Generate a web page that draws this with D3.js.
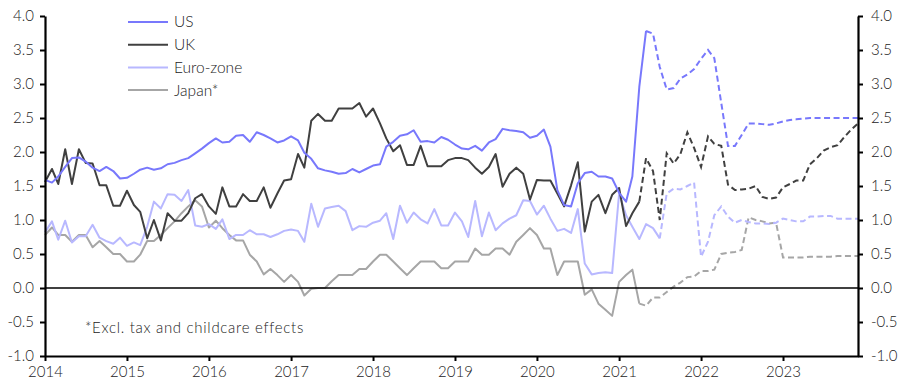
<!DOCTYPE html>
<html><head><meta charset="utf-8">
<script src="https://cdn.jsdelivr.net/npm/d3@7"></script>
<style>
body{margin:0;background:#fff;}
svg{font-family:Lato,"Open Sans",sans-serif;}
</style></head>
<body><svg id="c" width="907" height="391"></svg>
<script>
// Monthly data, Jan 2014 onward (actual), forecasts start at given month index
const startDate = new Date(2014,0,1);
const years = [2014,2015,2016,2017,2018,2019,2020,2021,2022,2023];
const yTicks = [-1,-0.5,0,0.5,1,1.5,2,2.5,3,3.5,4];
const yTickLabels = ["-1.0","-0.5","0.0","0.5","1.0","1.5","2.0","2.5","3.0","3.5","4.0"];
const seriesNames = ["US","UK","Euro-zone","Japan*"];
const seriesColors = ["#7878fc","#404040","#b8b8ff","#a6a6a6"];

const usActual = [1.59,1.55,1.64,1.78,1.91,1.92,1.86,1.77,1.72,1.78,1.72,1.61,
 1.62,1.68,1.74,1.77,1.74,1.76,1.82,1.84,1.88,1.91,1.98,2.05,
 2.13,2.20,2.14,2.15,2.24,2.25,2.15,2.29,2.25,2.20,2.14,2.17,
 2.23,2.17,1.99,1.90,1.76,1.73,1.71,1.68,1.69,1.75,1.70,1.75,
 1.80,1.82,2.08,2.15,2.24,2.26,2.32,2.15,2.16,2.14,2.22,2.18,
 2.11,2.05,2.04,2.09,2.02,2.14,2.19,2.34,2.32,2.31,2.29,2.21,
 2.24,2.33,2.08,1.44,1.22,1.20,1.54,1.69,1.71,1.64,1.64,1.61,
 1.40,1.27,1.64,2.96,3.78];
const usForecastStart = 88;
const usForecast = [3.78,3.74,3.25,2.92,2.94,3.08,3.14,3.22,3.37,3.50,3.38,2.72,
 2.09,2.09,2.25,2.42,2.42,2.41,2.40,2.42,2.45,2.47,2.48,2.49,
 2.50,2.50,2.50,2.50,2.50,2.50,2.50,2.50];

const ukActual = [1.56,1.75,1.53,2.04,1.53,2.04,1.84,1.83,1.51,1.51,1.21,1.21,
 1.43,1.22,1.12,0.73,1.00,0.70,1.10,0.99,0.99,1.10,1.32,1.38,
 1.20,1.09,1.48,1.20,1.20,1.38,1.28,1.28,1.48,1.18,1.39,1.58,
 1.60,1.97,1.77,2.46,2.56,2.46,2.46,2.64,2.64,2.64,2.72,2.52,
 2.64,2.42,2.20,2.01,2.10,1.81,1.81,2.09,1.79,1.79,1.79,1.88,
 1.91,1.91,1.88,1.77,1.68,1.78,1.97,1.49,1.68,1.77,1.68,1.30,
 1.59,1.58,1.58,1.39,1.20,1.51,1.85,0.83,1.27,1.37,1.10,1.37,
 1.47,0.91,1.10,1.27];
const ukForecastStart = 87;
const ukForecast = [1.27,1.91,1.72,1.00,1.98,1.83,1.97,2.29,2.06,1.78,2.23,2.12,
 2.09,1.52,1.44,1.45,1.46,1.50,1.34,1.31,1.33,1.48,1.53,1.58,
 1.58,1.82,1.91,2.02,2.07,2.10,2.22,2.33,2.42];

const ezActual = [0.82,0.98,0.71,0.99,0.67,0.76,0.76,0.93,0.74,0.69,0.65,0.74,
 0.62,0.67,0.63,0.90,1.27,1.17,1.38,1.37,1.28,1.44,0.92,0.90,
 0.94,0.87,1.01,0.72,0.78,0.78,0.85,0.79,0.79,0.75,0.79,0.84,
 0.86,0.84,0.68,1.24,0.90,1.17,1.19,1.21,1.13,0.85,0.91,0.90,
 0.96,0.99,1.10,0.72,1.21,0.96,1.11,1.01,0.95,1.16,0.92,0.92,
 1.11,0.98,0.75,1.28,0.76,1.11,0.85,0.95,1.02,1.07,1.29,1.28,
 1.08,1.21,1.02,0.84,0.87,0.81,1.16,0.36,0.20,0.22,0.23,0.22,
 1.39,1.07,0.90,0.72,0.94,0.88,0.73];
const ezForecastStart = 90;
const ezForecast = [0.73,1.39,1.46,1.45,1.50,1.55,0.46,0.68,1.07,1.20,1.05,0.96,
 1.00,0.97,0.95,0.95,0.94,0.96,1.02,1.00,0.98,0.98,1.05,1.05,
 1.06,1.06,1.02,1.02,1.02,1.02];

const jpActual = [0.78,0.89,0.78,0.78,0.68,0.78,0.78,0.60,0.69,0.60,0.50,0.50,
 0.39,0.39,0.49,0.69,0.69,0.78,0.88,0.98,1.10,1.20,1.29,1.20,
 0.89,0.99,0.88,0.78,0.70,0.70,0.49,0.39,0.20,0.28,0.19,0.09,
 0.19,0.09,-0.11,-0.01,0.00,0.00,0.10,0.19,0.19,0.19,0.28,0.28,
 0.39,0.49,0.49,0.39,0.29,0.19,0.29,0.39,0.39,0.39,0.29,0.29,
 0.39,0.39,0.39,0.58,0.49,0.49,0.58,0.58,0.49,0.68,0.78,0.88,
 0.78,0.58,0.58,0.19,0.39,0.39,0.39,-0.10,-0.02,-0.23,-0.32,-0.41,
 0.09,0.19,0.27,-0.23];
const jpForecastStart = 87;
const jpForecast = [-0.23,-0.26,-0.14,-0.14,-0.06,0.02,0.08,0.16,0.17,0.25,0.25,0.27,
 0.50,0.52,0.53,0.56,1.04,1.00,0.98,0.95,0.96,0.45,0.45,0.45,
 0.45,0.46,0.46,0.46,0.46,0.47,0.47,0.47,0.47];

const note = "*Excl. tax and childcare effects";

// ---- drawing ----
const svg = d3.select("#c");
const m = {left:45, right:858, top:16, bottom:356};
const x = d3.scaleTime().domain([startDate, d3.timeMonth.offset(startDate,119)]).range([m.left, m.right]);
const y = d3.scaleLinear().domain([-1,4]).range([m.bottom, m.top]);

const toPts = (arr, start) => arr.map((v,i)=>({d:d3.timeMonth.offset(startDate,start+i), v}));
const line = d3.line().x(p=>x(p.d)).y(p=>y(p.v));

const series = [
  {a:usActual, f:usForecast, fs:usForecastStart},
  {a:ukActual, f:ukForecast, fs:ukForecastStart},
  {a:ezActual, f:ezForecast, fs:ezForecastStart},
  {a:jpActual, f:jpForecast, fs:jpForecastStart}
];
const order = [3,2,1,0];
order.forEach(k=>{
  const s = series[k];
  svg.append("path").attr("d", line(toPts(s.a,0))).attr("fill","none")
    .attr("stroke", seriesColors[k]).attr("stroke-width",2).attr("stroke-linejoin","round");
  svg.append("path").attr("d", line(toPts(s.f,s.fs))).attr("fill","none")
    .attr("stroke", seriesColors[k]).attr("stroke-width",2).attr("stroke-dasharray","6,3.5");
});

// zero line
svg.append("line").attr("x1",m.left).attr("x2",m.right).attr("y1",y(0)).attr("y2",y(0))
  .attr("stroke","#000").attr("stroke-width",1.6);

// axes
const fs = 15;
const yl = svg.append("g").attr("transform",`translate(${m.left},0)`)
  .call(d3.axisLeft(y).tickValues(yTicks).tickFormat((d,i)=>yTickLabels[i]).tickSize(5).tickSizeOuter(0).tickPadding(6));
const yr = svg.append("g").attr("transform",`translate(${m.right},0)`)
  .call(d3.axisRight(y).tickValues(yTicks).tickFormat((d,i)=>yTickLabels[i]).tickSize(5).tickSizeOuter(0).tickPadding(8));
const xb = svg.append("g").attr("transform",`translate(0,${m.bottom})`)
  .call(d3.axisBottom(x).tickValues(years.map(yy=>new Date(yy,0,1))).tickFormat(d3.timeFormat("%Y")).tickSize(5).tickSizeOuter(0).tickPadding(5));
[yl,yr,xb].forEach(g=>{
  g.select(".domain").attr("stroke","#000").attr("stroke-width",2.2);
  g.selectAll(".tick line").attr("stroke","#000").attr("stroke-width",2);
  g.selectAll("text").attr("font-family","Lato, sans-serif").attr("font-weight",300)
    .attr("font-size",fs).attr("fill","#222");
});

// legend
const lg = svg.append("g");
seriesNames.forEach((n,i)=>{
  const yy = 22 + i*22.7;
  lg.append("line").attr("x1",128).attr("x2",168).attr("y1",yy).attr("y2",yy)
    .attr("stroke",seriesColors[i]).attr("stroke-width",2);
  lg.append("text").attr("x",174).attr("y",yy).attr("dy","0.35em").attr("font-size",15.5)
    .attr("font-weight",300).attr("fill","#222").text(n);
});

// note
svg.append("text").attr("x",85).attr("y",328).attr("dy","0.35em").attr("font-size",15)
  .attr("font-weight",300).attr("letter-spacing",0.7).attr("fill","#222").text(note);
</script></body></html>
